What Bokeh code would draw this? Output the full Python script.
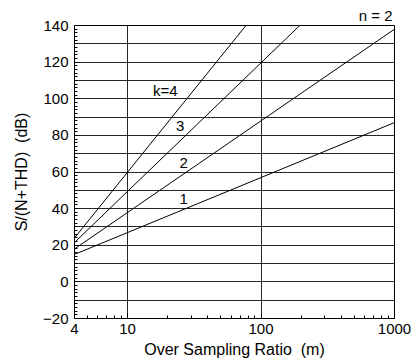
from bokeh.plotting import figure
from bokeh.models import FixedTicker, NumeralTickFormatter, Label, Range1d, Title
from bokeh.embed import file_html
from bokeh.resources import INLINE

# Data (S/(N+THD) in dB vs oversampling ratio m)
m_k1 = [4, 1000]
snr_k1 = [15.0, 87.0]
m_k2 = [4, 1000]
snr_k2 = [18.0, 138.0]
m_k3 = [4, 195]
snr_k3 = [21.5, 140.0]
m_k4 = [4, 77]
snr_k4 = [24.0, 140.0]

line_labels = ["k=4", "3", "2", "1"]
label_m = [15.5, 23.0, 24.5, 24.5]
label_db = [104.5, 85.0, 65.0, 45.5]

x_ticks = [4, 10, 100, 1000]
y_ticks = [-20, 0, 20, 40, 60, 80, 100, 120, 140]
y_grid = [-10, 0, 10, 20, 30, 40, 50, 60, 70, 80, 90, 100, 110, 120, 130]
x_grid = [10, 100]

FONT = "Liberation Sans"

p = figure(width=413, height=362, x_axis_type="log",
           x_range=Range1d(4, 1000), y_range=Range1d(-20, 140),
           output_backend="svg", toolbar_location=None,
           min_border_left=74, min_border_right=19, min_border_top=25, min_border_bottom=44)

p.outline_line_color = "black"
p.outline_line_width = 1
p.background_fill_color = "white"
p.border_fill_color = "white"

for xs, ys in [(m_k1, snr_k1), (m_k2, snr_k2), (m_k3, snr_k3), (m_k4, snr_k4)]:
    p.line(xs, ys, line_color="black", line_width=1)

minor_x = [v * d for d in (1, 10, 100) for v in range(2, 10) if 4 <= v * d <= 1000]
p.xaxis.ticker = FixedTicker(ticks=x_ticks, minor_ticks=minor_x)
p.xaxis.formatter = NumeralTickFormatter(format="0")
p.yaxis.ticker = FixedTicker(ticks=y_ticks, minor_ticks=list(range(-20, 141, 2)))

p.xgrid.ticker = FixedTicker(ticks=x_grid)
p.ygrid.ticker = FixedTicker(ticks=y_grid)
for g in (p.xgrid, p.ygrid):
    g.grid_line_color = "black"
    g.grid_line_width = 1
    g.grid_line_alpha = 0.85

for ax in (p.xaxis, p.yaxis):
    ax.axis_line_color = "black"
    ax.major_tick_in = 5
    ax.major_tick_out = 0
    ax.minor_tick_in = 3
    ax.minor_tick_out = 0
    ax.major_tick_line_color = "black"
    ax.minor_tick_line_color = "black"
    ax.major_label_text_font = FONT
    ax.major_label_text_font_size = "15px"
    ax.major_label_text_color = "black"
    ax.axis_label_text_font = FONT
    ax.axis_label_text_font_size = "16px"
    ax.axis_label_text_font_style = "normal"
    ax.axis_label_text_color = "black"

p.xaxis.axis_label = "Over Sampling Ratio\u00a0\u00a0(m)"
p.yaxis.axis_label = "S/(N+THD)\u00a0\u00a0(dB)"
p.xaxis.major_label_standoff = 5
p.yaxis.major_label_standoff = 6
p.xaxis.axis_label_standoff = 4
p.yaxis.axis_label_standoff = 10

for t, xm, yd in zip(line_labels, label_m, label_db):
    p.add_layout(Label(x=xm, y=yd, text=t, text_font=FONT, text_font_size="15px",
                       text_color="black", text_baseline="middle", text_align="left"))

p.add_layout(Title(text="n = 2", align="right", text_font=FONT, text_font_size="15px",
                   text_font_style="normal", text_color="black", offset=2, standoff=4),
             "above")

open("out.html", "w").write(file_html(p, INLINE))
